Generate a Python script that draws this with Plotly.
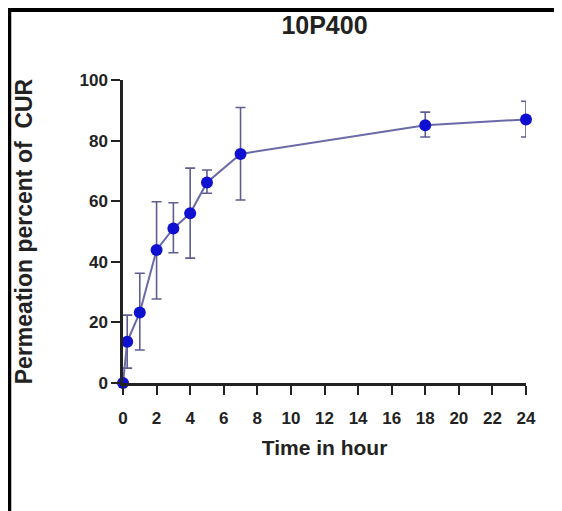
import plotly.graph_objects as go

time_h = [0, 0.25, 1, 2, 3, 4, 5, 7, 18, 24]
permeation = [0, 13.6, 23.3, 43.9, 51.0, 56.0, 66.2, 75.6, 85.1, 87.0]
err_plus = [0, 8.8, 12.9, 15.9, 8.5, 14.9, 4.1, 15.3, 4.3, 6.0]
err_minus = [0, 8.7, 12.4, 16.2, 8.0, 14.8, 3.6, 15.2, 3.9, 5.8]
x_ticks = list(range(0, 25, 2))
y_ticks = [0, 20, 40, 60, 80, 100]

OFF = 8  # page body margin
W, H = 562 - OFF, 511 - OFF
L, R, T, B = 123 - OFF, 526 - OFF, 80 - OFF, 383 - OFF  # plot area in figure px

def px(x):
    return (x - L) / (R - L)

def py(y):
    return (B - y) / (B - T)

FONT = "Liberation Sans, Arial"
INK = "#222222"

fig = go.Figure()
fig.add_trace(go.Scatter(
    x=time_h, y=permeation,
    mode="lines+markers",
    line=dict(color="#6a6aa8", width=2),
    marker=dict(color="#1010d0", size=12),
    error_y=dict(type="data", symmetric=False, array=err_plus, arrayminus=err_minus,
                 color="#5e5e92", thickness=1.6, width=5),
    cliponaxis=False,
    showlegend=False,
))

axis_font = dict(family=FONT, size=17, color=INK)
fig.update_layout(
    width=W, height=H,
    margin=dict(l=L, r=W - R, t=T, b=H - B, pad=0),
    paper_bgcolor="white", plot_bgcolor="white",
    title=dict(text="<b>10P400</b>", x=px(324.5 - OFF), xref="paper", y=1 - 17 / H,
               yanchor="middle", xanchor="center",
               font=dict(family=FONT, size=25, color=INK)),
    xaxis=dict(range=[0, 24], tickvals=x_ticks, ticktext=[f"<b>{v}</b>" for v in x_ticks],
               showline=True, linecolor=INK, linewidth=2.5,
               ticks="outside", ticklen=9, tickwidth=2, tickcolor=INK,
               showgrid=False, zeroline=False, tickfont=axis_font, ticklabelstandoff=9,
               title=dict(text="<b>Time in hour</b>", standoff=14,
                          font=dict(family=FONT, size=21, color=INK))),
    yaxis=dict(range=[0, 100], tickvals=y_ticks, ticktext=[f"<b>{v}</b>" for v in y_ticks],
               showline=True, linecolor=INK, linewidth=2.5,
               ticks="outside", ticklen=9, tickwidth=2, tickcolor=INK,
               showgrid=False, zeroline=False, tickfont=axis_font, ticklabelstandoff=0,
               title=dict(text="<b>Permeation percent of  CUR</b>", standoff=41,
                          font=dict(family=FONT, size=23, color=INK))),
    shapes=[
        dict(type="line", xref="paper", yref="paper", x0=px(0), x1=px(W + 5),
             y0=py(2), y1=py(2), line=dict(color="black", width=4)),
        dict(type="line", xref="paper", yref="paper", x0=px(1.5), x1=px(1.5),
             y0=py(0), y1=py(H + 5), line=dict(color="black", width=3.5)),
    ],
)

fig.write_html("out.html")
